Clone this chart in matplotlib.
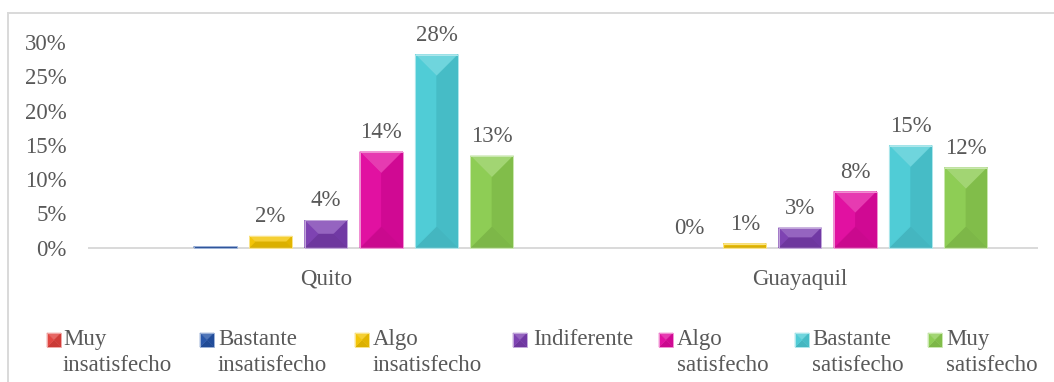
import matplotlib
matplotlib.use("Agg")
import matplotlib.pyplot as plt
import matplotlib.colors as mcolors
from matplotlib.patches import Polygon
from matplotlib.lines import Line2D
from matplotlib.transforms import IdentityTransform
import numpy as np

# ---- data -------------------------------------------------------------
cities = ["Quito", "Guayaquil"]
levels = [
    "Muy\ninsatisfecho",
    "Bastante\ninsatisfecho",
    "Algo\ninsatisfecho",
    "Indiferente",
    "Algo\nsatisfecho",
    "Bastante\nsatisfecho",
    "Muy\nsatisfecho",
]
# share of respondents per level (Quito, Guayaquil); None = no answers
muy_insatisfecho = [None, None]
bastante_insatisfecho = [0.002, 0.0]
algo_insatisfecho = [0.017, 0.006]
indiferente = [0.040, 0.029]
algo_satisfecho = [0.140, 0.082]
bastante_satisfecho = [0.282, 0.149]
muy_satisfecho = [0.134, 0.117]
series = [muy_insatisfecho, bastante_insatisfecho, algo_insatisfecho,
          indiferente, algo_satisfecho, bastante_satisfecho, muy_satisfecho]
# which bars carry a percentage label
labelled = [[False, False], [False, True], [True, True], [True, True],
            [True, True], [True, True], [True, True]]
yticks = [0.0, 0.05, 0.10, 0.15, 0.20, 0.25, 0.30]

colors = ["#E0403C", "#2352A6", "#F3C300", "#7A3DB0",
          "#E00A9E", "#4BCAD5", "#8BCB50"]

# ---- style ------------------------------------------------------------
W, H = 1054, 382
TXT = "#595959"
GRID = "#D9D9D9"
FS = 16.5
plt.rcParams["font.family"] = ["Liberation Serif", "DejaVu Serif"]

fig = plt.figure(figsize=(W / 100, H / 100), dpi=100)
fig.patch.set_facecolor("white")

# outer chart frame (left and top edges visible)
fig.add_artist(Line2D([7.5, 7.5], [0, H - 13], color=GRID, lw=1.4,
                      transform=IdentityTransform()))
fig.add_artist(Line2D([7.5, W], [H - 13, H - 13], color=GRID, lw=1.4,
                      transform=IdentityTransform()))

ax = fig.add_axes([89 / W, (H - 247.7) / H, 948 / W, 205.5 / H])
ax.set_xlim(-0.5, 1.5)
ax.set_ylim(0, 0.30)
for s in ("top", "right", "left"):
    ax.spines[s].set_visible(False)
ax.spines["bottom"].set_color(GRID)
ax.spines["bottom"].set_linewidth(1.4)
ax.set_yticks(yticks)
ax.set_yticklabels([f"{t:.0%}" for t in yticks])
ax.set_xticks(np.arange(len(cities)))
ax.set_xticklabels(cities)
ax.tick_params(axis="y", length=0, pad=16, labelsize=FS, labelcolor=TXT)
ax.tick_params(axis="x", length=0, pad=15, labelsize=FS, labelcolor=TXT)


def shade(c, f):
    r, g, b = mcolors.to_rgb(c)
    if f >= 0:
        return (r + (1 - r) * f, g + (1 - g) * f, b + (1 - b) * f)
    return (r * (1 + f), g * (1 + f), b * (1 + f))


def bevel(target, L, B, R, T, c, z=3):
    """Pyramid-style bevel facets over a rectangle given in pixels."""
    w, h = R - L, T - B
    d = min(w, h) / 2.0
    facets = [
        ([(L, T), (R, T), (R - d, T - d), (L + d, T - d)], shade(c, 0.20)),
        ([(L, B), (R, B), (R - d, B + d), (L + d, B + d)], shade(c, -0.10)),
        ([(L, B), (L + d, B + d), (L + d, T - d), (L, T)], shade(c, 0.03)),
        ([(R, B), (R - d, B + d), (R - d, T - d), (R, T)], shade(c, -0.07)),
    ]
    for pts, fc in facets:
        p = Polygon(pts, closed=True, facecolor=fc, edgecolor=fc, lw=0.3,
                    transform=IdentityTransform(), zorder=z, clip_on=False)
        target.add_artist(p) if target is fig else target.add_patch(p)
    edge = Polygon([(L, B), (R, B), (R, T), (L, T)], closed=True,
                   facecolor="none", edgecolor=shade(c, 0.55), lw=0.7,
                   transform=IdentityTransform(), zorder=z + 0.1,
                   clip_on=False)
    target.add_artist(edge) if target is fig else target.add_patch(edge)


slot = 0.1167
bw = 0.0906
xc = np.arange(len(cities))
for i, (vals, col) in enumerate(zip(series, colors)):
    x = xc + (i - 3) * slot
    hts = [v if v is not None else 0.0 for v in vals]
    bars = ax.bar(x, hts, width=bw, color=col, linewidth=0, zorder=2)
    for j, (bar, v) in enumerate(zip(bars, vals)):
        if v is None:
            continue
        if v > 0:
            (L, B), (R, T) = ax.transData.transform(
                [(bar.get_x(), 0), (bar.get_x() + bar.get_width(), v)])
            bevel(ax, L, B, R, T, col)
        if labelled[i][j]:
            ax.annotate(f"{v:.0%}", (x[j], v), xytext=(0, 10),
                        textcoords="offset points", ha="center",
                        va="baseline", fontsize=FS, color=TXT)

# ---- legend -----------------------------------------------------------
marker_left = [47, 200, 355, 513, 659, 795, 928]
text_left = [63, 218, 373, 533, 677, 812, 946]
for lab, col, mx, tx in zip(levels, colors, marker_left, text_left):
    yc = H - 340
    bevel(fig, mx, yc - 7, mx + 14, yc + 7, col, z=5)
    fig.text(tx / W, (H - 329) / H, lab, ha="left", va="top",
             fontsize=FS, color=TXT, linespacing=1.32)

fig.savefig("out.png", dpi=100)
